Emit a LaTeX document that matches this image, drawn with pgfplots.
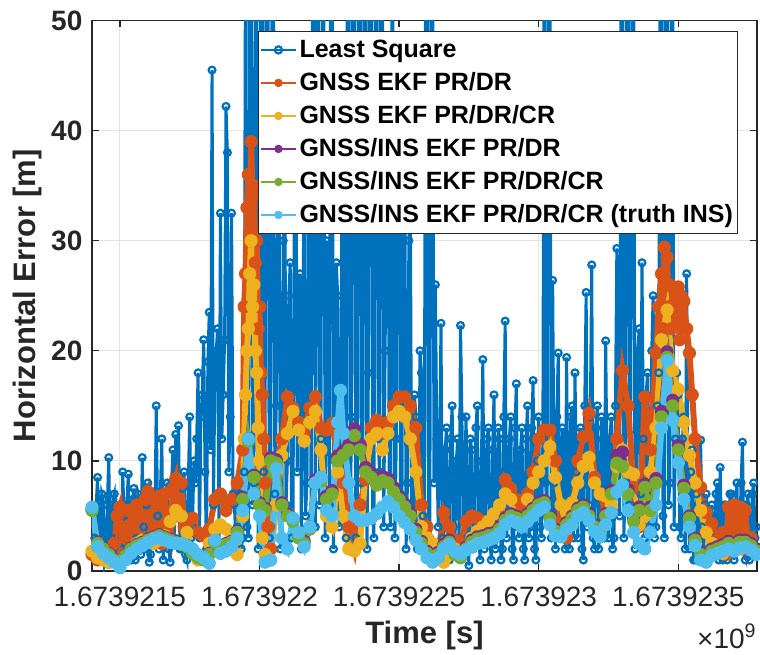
\documentclass[border=0pt]{standalone}
\usepackage{fontspec}
\setmainfont{Liberation Sans}
\usepackage{pgfplots}
\pgfplotsset{compat=1.18}
\definecolor{c1}{rgb}{0,0.447,0.741}
\definecolor{c2}{rgb}{0.85,0.325,0.098}
\definecolor{c3}{rgb}{0.929,0.694,0.125}
\definecolor{c4}{rgb}{0.494,0.184,0.556}
\definecolor{c5}{rgb}{0.466,0.674,0.188}
\definecolor{c6}{rgb}{0.301,0.745,0.933}
\definecolor{axgray}{rgb}{0.15,0.15,0.15}
\definecolor{labgray}{rgb}{0.15,0.15,0.15}
\begin{document}
\begin{tikzpicture}
\path[use as bounding box] (-46pt,-41.5pt) rectangle (334pt,285.5pt);
\begin{axis}[
  at={(0,0)}, anchor=south west,
  scale only axis, width=332.5pt, height=275.25pt,
  xmin=400, xmax=2782, ymin=0, ymax=50,
  xtick={500,1000,1500,2000,2500},
  xticklabels={1.6739215,1.673922,1.6739225,1.673923,1.6739235},
  ytick={0,10,20,30,40,50},
  scaled x ticks=false,
  tick align=inside,
  major tick length=3.3pt,
  grid=major,
  grid style={gray!22, line width=0.5pt},
  axis line style={color=axgray, line width=0.6pt},
  tick style={color=axgray, line width=0.6pt},
  /pgf/number format/assume math mode=true,
  xticklabel style={font=\fontsize{14}{16}\selectfont, text=labgray, yshift=-4.5pt},
  yticklabel style={font=\bfseries\fontsize{14}{16}\selectfont, text=labgray, xshift=-1.3pt},
  xlabel={Time [s]}, ylabel={Horizontal Error [m]},
  label style={font=\bfseries\fontsize{15.5}{18}\selectfont, text=labgray},
  xlabel style={at={(axis description cs:0.5,-0.1163)}, anchor=center},
  ylabel style={at={(axis description cs:-0.0977,0.5)}, anchor=center},
  legend cell align=left,
  legend image post style={line width=1pt, mark size=1.8pt},
  legend style={at={(0.2496,0.9809)}, anchor=north west,
    font=\bfseries\fontsize{12.5}{15}\selectfont, draw=axgray, fill=white,
    inner sep=1pt, row sep=0pt,
    nodes={inner sep=1.5pt, text height=10.5pt, text depth=3pt}},
  band/.style={line width=3pt, mark=*, mark size=3pt, mark options={line width=0.6pt}},
]
\addplot[c1, line width=1.5pt, mark=o, mark size=1.7pt, mark options={line width=1.1pt}] coordinates {
(400,5.8)(405,1.5)(410,3.0)(415,6)(420,8.5)(425,1)(430,2.0)(435,7)(440,6.5)(445,0.8)
(450,1.5)(455,6)(460,10.3)(465,2)(470,3.0)(475,6.5)(480,7.0)(485,1)(490,1.2)(495,5.5)
(500,6.0)(505,2)(510,9.0)(515,5)(520,2.5)(525,6)(530,8.8)(535,2)(540,1.0)(545,6.5)
(550,7.5)(555,1)(560,3.0)(565,7)(570,6.5)(575,1.5)(580,10.3)(585,4)(590,2.0)(595,6)
(600,8.0)(605,0.8)(610,1.5)(615,6.5)(620,7.0)(625,3)(630,15.0)(635,5)(640,2.0)(645,7)
(650,12.0)(655,1)(660,3.0)(665,7)(670,8.0)(675,2)(680,0.8)(685,8)(690,11.0)(695,3)
(700,12.4)(705,5)(710,13.2)(715,2)(720,2.0)(725,7.5)(730,9.0)(735,1.5)(740,1.0)(745,8)
(750,14.0)(755,3)(760,4.0)(765,10)
(770,8)(775,12)(780,18)(785,3)(790,14)(795,16)(800,21)(805,9)(810,2)(815,19)
(820,23.5)(825,11)(830,45.5)(835,6)(840,17)(845,20)(850,22)(855,2)(860,32.5)(865,12)
(870,16)(875,21)(880,42.2)(885,38)(890,9)(895,14)(900,32.5)(905,7)(910,6)(915,3)
(920,4)(925,8)(930,7)(935,2)(940,3)(945,9)
(950,60)(955,4)(960,3)(965,60)(970,60)(975,6)(980,8)(985,60)(990,60)(995,2)
(1000,5)(1005,60)(1010,60)(1015,9)(1020,12)(1025,60)(1030,60)(1035,3)(1040,4)(1045,60)
(1050,60)(1055,7)(1060,15)(1065,32)(1070,38)(1075,2)(1080,3)(1085,30)(1090,44)(1095,6)
(1100,10)(1105,25)(1110,28)(1115,3)(1120,5)(1125,36)(1130,47)(1135,9)(1140,20)(1145,27)
(1150,2)(1155,18)(1160,40)(1165,5)(1170,8)(1175,33)(1180,36)(1185,4)(1190,60)(1195,60)
(1200,4)(1205,60)(1210,60)(1215,6)(1220,12)(1225,60)(1230,60)(1235,3)(1240,30)(1245,22)
(1250,6)(1255,60)(1260,60)(1265,2)(1270,10)(1275,28)(1280,25)(1285,4)(1290,5)(1295,34)
(1300,31)(1305,8)(1310,3)(1315,60)(1320,60)(1325,5)(1330,14)(1335,60)(1340,60)(1345,3)
(1350,2)(1355,60)(1360,60)(1365,8)(1370,6)(1375,60)(1380,60)(1385,2)(1390,18)(1395,60)
(1400,60)(1405,5)(1410,3)(1415,60)(1420,60)(1425,12)(1430,9)(1435,60)(1440,60)(1445,4)
(1450,20)(1455,38)(1460,45)(1465,6)(1470,4)(1475,60)(1480,40)(1485,3)(1490,12)(1495,44)
(1500,48)(1505,7)(1510,5)(1515,38)(1520,42)(1525,2)(1530,8)(1535,30)(1540,35)(1545,6)
(1550,3)(1555,16)(1560,14)(1565,2)(1570,4)(1575,20)(1580,18)(1585,5)(1590,2)(1595,60)
(1600,60)(1605,4)(1610,3)(1615,60)(1620,60)(1625,8)(1630,26)(1635,12)(1640,4)(1645,10)
(1650,22.5)(1655,3)(1660,2)(1665,11)(1670,13)(1675,2)(1680,1)(1685,12)(1690,15)(1695,4)
(1700,3)(1705,10)(1710,12)(1715,2)(1720,22.3)(1725,14)(1730,2)(1735,9)(1740,14)(1745,3)
(1750,0.5)(1755,12)(1760,11)(1765,2)(1770,3)(1775,13)(1780,15)(1785,4)(1790,1)(1795,10)
(1800,19.2)(1805,2)(1810,4)(1815,12)(1820,13)(1825,3)(1830,1)(1835,11)(1840,16)(1845,2)
(1850,3)(1855,13)(1860,12)(1865,1)(1870,2)(1875,14)(1880,22.7)(1885,3)(1890,5)(1895,12)
(1900,14)(1905,2)(1910,1)(1915,13)(1920,17)(1925,4)(1930,3)(1935,11)(1940,13)(1945,2)
(1950,1)(1955,12)(1960,15)(1965,3)(1970,4)(1975,13)(1980,17.3)(1985,2)(1990,1)(1995,10)
(2000,14)(2005,4)(2010,3)(2015,12)
(2020,60)(2025,8)(2030,5)(2035,60)(2040,60)(2045,3)(2050,26.4)(2055,8)
(2060,2)(2065,14)(2070,19.8)(2075,3)(2080,4)(2085,13)(2090,12)(2095,2)(2100,19.4)(2105,5)
(2110,2)(2115,14)(2120,15)(2125,3)(2130,18)(2135,9)(2140,3)(2145,12)(2150,13)(2155,2)
(2160,1)(2165,15)(2170,25.3)(2175,4)(2180,6)(2185,14)(2190,27.8)(2195,3)(2200,2)(2205,13)
(2210,15)(2215,2)(2220,4)(2225,14)(2230,12)(2235,3)(2240,20.9)(2245,8)(2250,3)(2255,12)
(2260,14)(2265,2)(2270,3)(2275,15)
(2280,29.3)(2285,10)(2290,5)(2295,60)(2300,60)(2305,3)(2310,8)(2315,60)(2320,60)(2325,6)
(2330,15)(2335,60)(2340,60)(2345,2)(2350,4)(2355,20)(2360,22)(2365,7)(2370,28)(2375,12)
(2380,3)(2385,16)(2390,18)(2395,4)(2400,6)(2405,20)(2410,25)(2415,3)(2420,4)(2425,15)
(2430,18)(2435,60)(2440,60)(2445,5)(2450,3)(2455,60)(2460,60)(2465,6)(2470,8)(2475,60)
(2480,60)(2485,4)(2490,12)(2495,18)
(2500,16)(2505,4)(2510,3)(2515,12)(2520,14)(2525,2)(2530,27)(2535,8)(2540,2)(2545,9)
(2550,11)(2555,1)(2560,1)(2565,7)(2570,8)(2575,2)(2580,11.9)(2585,4)(2590,2)(2595,6)
(2600,7)(2605,1)(2610,1)(2615,5)(2620,6)(2625,2)(2630,3)(2635,7)(2640,8)(2645,1)
(2650,9.4)(2655,3)(2660,1)(2665,6)(2670,6)(2675,1)(2680,2)(2685,7)(2690,7)(2695,2)
(2700,1)(2705,6)(2710,8)(2715,2)(2720,3)(2725,8)(2730,11.7)(2735,2)(2740,1)(2745,6)
(2750,7)(2755,1)(2760,2)(2765,7)(2770,8)(2775,3)(2780,4)
};
\addlegendentry{Least Square}
\addplot[c2, band] coordinates {
(400,1.5)(420,1.0)(440,1.2)(460,0.8)(480,2.5)(490,5.0)(500,5.8)(510,1.5)(520,3.0)(530,5.5)
(540,5.5)(550,2.0)(560,6.0)(570,5.0)(580,2.5)(590,6.5)(600,7.2)(610,3.0)(620,6.5)(630,4.0)
(640,6.8)(650,2.5)(660,7.0)(670,4.0)(680,3.0)(690,7.5)(700,8.4)(710,5.0)(720,8.0)(730,4.0)
(740,4.5)(760,4.8)(780,3.5)
(800,3.2)(820,3.8)(840,6.5)(860,7.0)(880,5.5)(900,6.5)(920,8.0)(940,11.0)(945,24.0)(950,27.0)
(955,33.0)(960,36.0)(965,30.0)(970,39.0)(975,34.0)(980,35.0)(985,28.0)(990,30.0)(995,22.0)(1000,24.0)
(1005,18.0)(1010,16.0)(1015,12.0)(1020,8.0)(1030,4.0)(1040,2.0)(1060,9.5)(1080,12.0)(1100,15.8)
(1120,14.8)(1140,13.5)(1160,12.5)(1180,14.8)(1200,15.8)(1220,13.0)(1240,12.8)(1260,13.4)(1280,10.5)(1300,8.0)
(1320,4.0)(1340,2.0)(1360,6.0)(1380,8.3)(1400,13.0)(1420,13.7)(1440,12.5)(1460,13.5)(1480,15.0)(1500,15.8)
(1520,15.8)(1540,15.0)(1560,13.0)(1580,6.0)(1600,4.0)(1620,2.0)(1640,1.5)(1660,5.3)(1680,4.0)(1700,2.8)
(1720,2.5)(1740,4.5)(1760,5.0)(1780,4.8)(1800,4.5)(1820,3.0)(1840,3.0)(1860,4.0)(1880,8.3)(1900,7.5)
(1920,6.5)(1940,5.8)(1960,7.0)(1980,9.0)(2000,12.0)(2020,12.8)(2040,12.8)(2060,10.0)(2080,4.6)(2100,3.0)
(2120,5.0)(2140,10.0)(2160,12.2)(2180,14.3)(2200,8.5)(2220,7.0)(2240,5.3)(2260,5.5)(2280,12.0)(2300,18.2)
(2320,15.0)(2340,7.6)(2360,4.0)(2380,15.8)(2400,11.0)(2420,19.8)(2430,24.0)(2440,27.0)(2445,22.0)(2450,29.4)
(2455,26.0)(2460,28.5)(2465,24.0)(2470,26.0)(2475,22.0)(2480,25.8)(2490,24.0)(2500,25.8)(2505,21.0)(2510,25.0)
(2520,24.5)(2530,22.0)(2540,19.8)(2550,16.0)(2560,12.0)(2580,7.6)(2600,5.3)(2620,4.3)(2640,2.8)(2660,3.5)(2670,1.5)
(2680,5.8)(2690,2.0)(2700,6.0)(2710,2.5)(2720,5.8)(2730,2.0)(2740,5.5)(2750,2.0)(2760,3.0)(2780,2.0)
};
\addlegendentry{GNSS EKF PR/DR}
\addplot[c3, band] coordinates {
(400,1.8)(420,1.2)(440,1.0)(460,0.8)(480,0.8)(500,0.8)(520,1.5)(540,2.0)(560,2.5)(580,2.8)
(600,2.6)(620,2.5)(640,2.8)(660,3.2)(680,4.5)(700,5.5)(720,5.0)(740,3.5)(760,2.0)(780,1.0)
(800,1.2)(820,2.5)(840,3.8)(860,4.2)(880,3.8)(900,2.0)(920,1.5)(940,5.0)(945,12.0)(950,16.0)
(955,20.0)(960,22.0)(965,27.0)(970,30.0)(975,24.0)(980,26.0)(985,20.0)(990,18.0)(995,13.0)(1000,10.0)
(1005,6.0)(1010,3.0)(1020,1.5)(1040,1.0)(1060,6.0)(1080,10.5)(1100,12.5)
(1120,14.5)(1140,12.8)(1160,11.8)(1180,13.5)(1200,14.5)(1220,11.0)(1240,5.0)(1260,4.0)(1280,9.0)(1300,5.0)
(1320,2.0)(1340,1.8)(1360,2.5)(1380,9.0)(1400,12.0)(1420,12.5)(1440,11.0)(1460,12.5)(1480,14.0)(1500,14.5)
(1520,14.0)(1540,12.0)(1560,9.0)(1580,4.0)(1600,3.0)(1620,2.5)(1640,1.5)(1660,0.8)(1680,1.5)(1700,2.0)
(1720,1.5)(1740,2.2)(1760,3.0)(1780,3.6)(1800,4.0)(1820,4.5)(1840,5.2)(1860,6.0)(1880,7.0)(1900,6.5)
(1920,5.0)(1940,4.5)(1960,6.5)(1980,8.0)(2000,9.0)(2020,10.0)(2040,11.3)(2060,8.5)(2080,6.0)(2100,5.3)
(2120,6.2)(2140,8.0)(2160,9.5)(2180,10.3)(2200,8.0)(2220,7.0)(2240,6.8)(2260,6.0)(2280,9.5)(2300,11.0)
(2320,9.0)(2340,8.8)(2360,4.2)(2380,5.0)(2400,9.0)(2420,13.0)(2440,21.0)(2460,23.7)(2480,18.2)(2500,16.5)
(2520,13.5)(2540,10.5)(2560,8.0)(2580,5.5)(2600,3.5)(2620,2.5)(2640,1.8)(2660,1.6)(2680,2.0)(2700,2.2)
(2720,2.0)(2740,2.2)(2760,2.3)(2780,2.0)
};
\addlegendentry{GNSS EKF PR/DR/CR}
\addplot[c4, band] coordinates {
(400,5.6)(420,2.6)(440,2.1)(460,1.6)(480,1.1)(500,0.7)(520,1.5)(540,2.1)(560,2.4)(580,2.6)
(600,2.9)(620,3.1)(640,3.3)(660,3.1)(680,2.9)(700,2.7)(720,2.5)(740,2.3)(760,1.7)(780,1.3)
(800,1.1)(820,1.6)(840,2.7)(860,2.3)(880,2.5)(900,2.7)(920,3.6)(940,6.7)(960,12.0)(980,8.7)
(1000,6.2)(1020,5.7)(1040,10.3)(1060,10.1)(1080,6.2)(1100,5.2)(1120,4.7)(1140,3.2)(1160,2.7)(1180,4.0)
(1200,8.3)(1220,8.5)(1240,6.8)(1260,7.3)(1280,10.4)(1300,10.9)(1320,11.5)(1340,12.9)(1360,11.5)(1380,9.4)
(1400,8.9)(1420,8.2)(1440,8.6)(1460,8.4)(1480,7.6)(1500,6.8)(1520,6.1)(1540,5.3)(1560,3.8)(1580,2.7)
(1600,1.8)(1620,1.2)(1640,1.7)(1660,2.4)(1680,2.8)(1700,1.7)(1720,1.4)(1740,2.2)(1760,2.8)(1780,3.1)
(1800,3.2)(1820,3.4)(1840,3.5)(1860,4.0)(1880,4.8)(1900,5.2)(1920,5.0)(1940,4.7)(1960,5.2)(1980,5.7)
(2000,6.2)(2020,6.4)(2040,5.0)(2060,3.8)(2080,3.7)(2100,4.4)(2120,5.0)(2140,5.7)(2160,6.0)(2180,5.2)
(2200,4.2)(2220,3.7)(2240,5.2)(2260,7.3)(2280,10.5)(2300,10.8)(2320,7.4)(2340,4.8)(2360,5.8)(2380,7.9)
(2400,5.8)(2420,8.4)(2440,14.5)(2460,19.9)(2480,15.5)(2500,11.4)(2520,7.8)(2540,5.0)(2560,3.0)(2580,1.7)
(2600,1.4)(2620,2.0)(2640,2.2)(2660,2.4)(2680,2.7)(2700,2.5)(2720,2.8)(2740,2.8)(2760,2.5)(2780,2.0)
};
\addlegendentry{GNSS/INS EKF PR/DR}
\addplot[c5, band] coordinates {
(400,5.5)(420,2.5)(440,2.0)(460,1.5)(480,1.0)(500,0.6)(520,1.4)(540,2.0)(560,2.3)(580,2.5)
(600,2.8)(620,3.0)(640,3.2)(660,3.0)(680,2.8)(700,2.6)(720,2.4)(740,2.2)(760,1.6)(780,1.2)
(800,1.0)(820,1.5)(840,2.6)(860,2.2)(880,2.4)(900,2.6)(920,3.5)(940,6.5)(960,11.8)(980,8.5)
(1000,6.0)(1020,5.5)(1040,10.0)(1060,9.8)(1080,6.0)(1100,5.0)(1120,4.5)(1140,3.0)(1160,2.5)(1180,3.8)
(1200,8.0)(1220,8.2)(1240,6.5)(1260,7.0)(1280,10.0)(1300,10.5)(1320,11.0)(1340,12.3)(1360,11.0)(1380,9.0)
(1400,8.5)(1420,7.8)(1440,8.2)(1460,8.0)(1480,7.2)(1500,6.5)(1520,5.8)(1540,5.0)(1560,3.5)(1580,2.5)
(1600,1.6)(1620,1.0)(1640,1.5)(1660,2.2)(1680,2.6)(1700,1.5)(1720,1.2)(1740,2.0)(1760,2.6)(1780,2.9)
(1800,3.0)(1820,3.2)(1840,3.3)(1860,3.8)(1880,4.6)(1900,5.0)(1920,4.8)(1940,4.5)(1960,5.0)(1980,5.5)
(2000,6.0)(2020,6.2)(2040,4.8)(2060,3.6)(2080,3.5)(2100,4.2)(2120,4.8)(2140,5.5)(2160,5.8)(2180,5.0)
(2200,4.0)(2220,3.5)(2240,5.0)(2260,7.0)(2280,9.8)(2300,9.5)(2320,7.0)(2340,4.5)(2360,5.5)(2380,7.6)
(2400,5.5)(2420,8.0)(2440,14.0)(2460,19.4)(2480,15.0)(2500,11.0)(2520,7.5)(2540,4.8)(2560,2.8)(2580,1.5)
(2600,1.2)(2620,1.8)(2640,2.0)(2660,2.2)(2680,2.5)(2700,2.3)(2720,2.6)(2740,2.6)(2760,2.3)(2780,1.8)
};
\addlegendentry{GNSS/INS EKF PR/DR/CR}
\addplot[c6, band] coordinates {
(400,5.8)(420,2.2)(440,1.6)(460,1.2)(480,0.8)(500,0.3)(520,1.0)(540,1.6)(560,2.0)(580,2.3)
(600,2.6)(620,2.9)(640,3.0)(660,2.8)(680,2.6)(700,2.5)(720,2.5)(740,2.3)(760,2.0)(780,1.5)
(800,1.2)(820,0.7)(840,2.8)(860,1.6)(880,1.8)(900,2.2)(920,3.0)(940,5.5)(960,12.0)(980,7.0)
(1000,5.0)(1020,0.8)(1040,1.0)(1060,9.3)(1080,3.0)(1100,2.0)(1120,4.8)(1140,3.5)(1160,2.2)(1180,4.0)
(1200,8.0)(1220,8.5)(1240,5.5)(1260,5.0)(1280,13.5)(1290,16.4)(1300,12.5)(1320,8.0)(1340,5.0)(1360,4.6)
(1380,4.6)(1400,4.8)(1420,5.2)(1440,5.8)(1460,6.3)(1480,5.8)(1500,5.0)(1520,4.4)(1540,3.8)(1560,2.8)
(1580,2.0)(1600,1.2)(1620,0.8)(1640,1.2)(1660,2.0)(1680,2.4)(1700,1.8)(1720,1.5)(1740,1.9)(1760,2.2)
(1780,2.5)(1800,2.6)(1820,2.8)(1840,3.0)(1860,3.4)(1880,4.2)(1900,4.6)(1920,4.4)(1940,4.0)(1960,4.5)
(1980,5.0)(2000,5.5)(2020,5.8)(2040,4.2)(2060,3.2)(2080,3.1)(2100,3.8)(2120,4.2)(2140,5.0)(2160,5.3)
(2180,4.6)(2200,3.6)(2220,3.1)(2240,4.2)(2260,5.3)(2280,7.2)(2300,7.8)(2320,5.5)(2340,3.5)(2360,2.5)
(2380,2.0)(2400,3.5)(2420,6.0)(2440,13.0)(2460,19.1)(2480,13.7)(2500,9.8)(2520,6.5)(2540,4.0)(2560,2.3)
(2580,1.0)(2600,0.8)(2620,1.4)(2640,1.6)(2660,1.8)(2680,2.0)(2700,1.8)(2720,2.1)(2740,2.2)(2760,1.9)
(2780,1.5)
};
\addlegendentry{GNSS/INS EKF PR/DR/CR (truth INS)}
\end{axis}
\node[anchor=south east, inner sep=0pt, font=\fontsize{14}{16}\selectfont, text=labgray] at (332.5pt,-39pt) {×10\textsuperscript{9}};
\end{tikzpicture}
\end{document}
